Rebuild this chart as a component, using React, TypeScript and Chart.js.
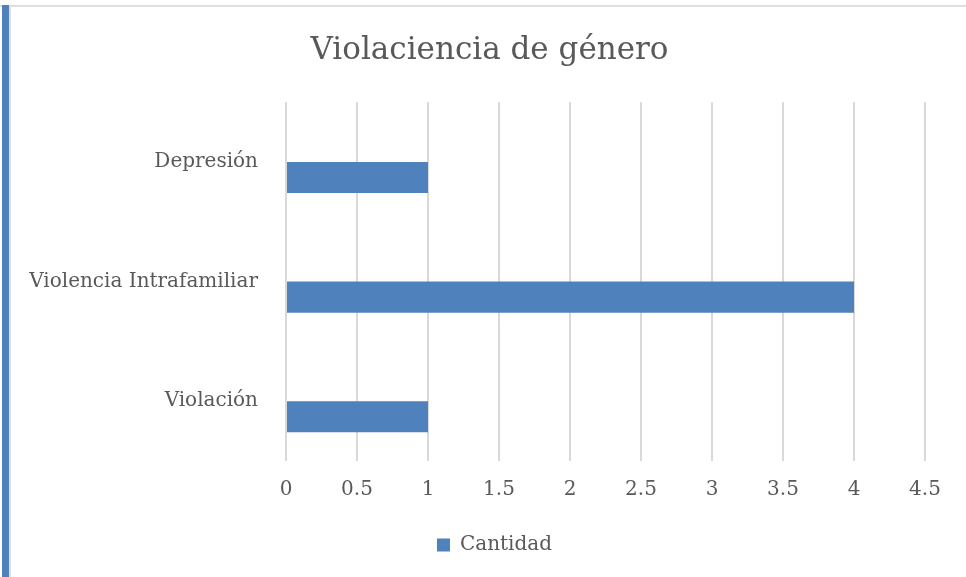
import React, { useEffect, useRef } from "react";
import { Chart, registerables } from "chart.js";

Chart.register(...registerables);

const categories = ["Depresión", "Violencia Intrafamiliar", "Violación"];
const cantidad = [1, 4, 1];
const seriesLabel = "Cantidad";
const chartTitle = "Violaciencia de género";
const xMin = 0;
const xMax = 4.5;
const xStep = 0.5;

const FONT = "'DejaVu Serif', serif";
const TEXT = "#595959";
const BLUE = "#4f81bd";
const GRID = "#d9d9d9";

const blockShift = {
  id: "blockShift",
  afterLayout(chart: any) {
    const lg = chart.legend;
    if (lg) lg.left += 53;
    const tb = chart.titleBlock;
    if (tb) tb.left += 43;
  },
};

export default function App() {
  const ref = useRef<HTMLCanvasElement | null>(null);

  useEffect(() => {
    document.body.style.margin = "0";
    const canvas = ref.current;
    if (!canvas) return;
    const chart = new Chart(canvas, {
      type: "bar",
      data: {
        labels: categories,
        datasets: [
          {
            label: "",
            data: categories.map(() => null),
            backgroundColor: "rgba(0,0,0,0)",
          },
          {
            label: seriesLabel,
            data: cantidad,
            backgroundColor: BLUE,
            borderWidth: 0,
          },
        ],
      },
      plugins: [blockShift],
      options: {
        indexAxis: "y",
        animation: false,
        responsive: false,
        maintainAspectRatio: false,
        layout: { padding: { left: 11, right: 41, top: 0, bottom: 12 } },
        datasets: {
          bar: { categoryPercentage: 0.52, barPercentage: 1 },
        },
        plugins: {
          title: {
            display: true,
            text: chartTitle,
            color: TEXT,
            font: { family: FONT, size: 31, weight: "normal", lineHeight: 1.2 },
            padding: { top: 32, bottom: 33 },
          },
          legend: {
            display: true,
            position: "bottom",
            labels: {
              color: TEXT,
              font: { family: FONT, size: 20 },
              boxWidth: 13,
              boxHeight: 13,
              padding: 10,
              filter: (item) => item.text !== "",
            },
          },
          tooltip: { enabled: false },
        },
        scales: {
          x: {
            type: "linear",
            min: xMin,
            max: xMax,
            ticks: {
              stepSize: xStep,
              color: TEXT,
              font: { family: FONT, size: 20 },
              padding: 17,
              callback: (v: any) => String(Number(v)),
            },
            grid: { color: GRID, lineWidth: 2, drawTicks: false },
            border: { display: false },
            afterFit: (s: any) => {
              s.height = 64;
            },
          },
          y: {
            type: "category",
            ticks: {
              color: TEXT,
              font: { family: FONT, size: 20 },
              padding: 28,
            },
            grid: { display: false, drawTicks: false },
            border: { display: false },
            afterFit: (s: any) => {
              s.width = 275;
            },
          },
        },
      },
    });
    return () => chart.destroy();
  }, []);

  return (
    <div style={{ position: "absolute", left: 0, top: 0, width: 966, height: 577, background: "#fff" }}>
      <div style={{ position: "absolute", left: 0, top: 5, width: 966, height: 2, background: "#dedede" }} />
      <div style={{ position: "absolute", left: 9, top: 5, width: 2, height: 572, background: "#dedede" }} />
      <div style={{ position: "absolute", left: 2, top: 5, width: 7, height: 572, background: BLUE }} />
      <canvas ref={ref} width={966} height={577} style={{ position: "absolute", left: 0, top: 0 }} />
    </div>
  );
}
